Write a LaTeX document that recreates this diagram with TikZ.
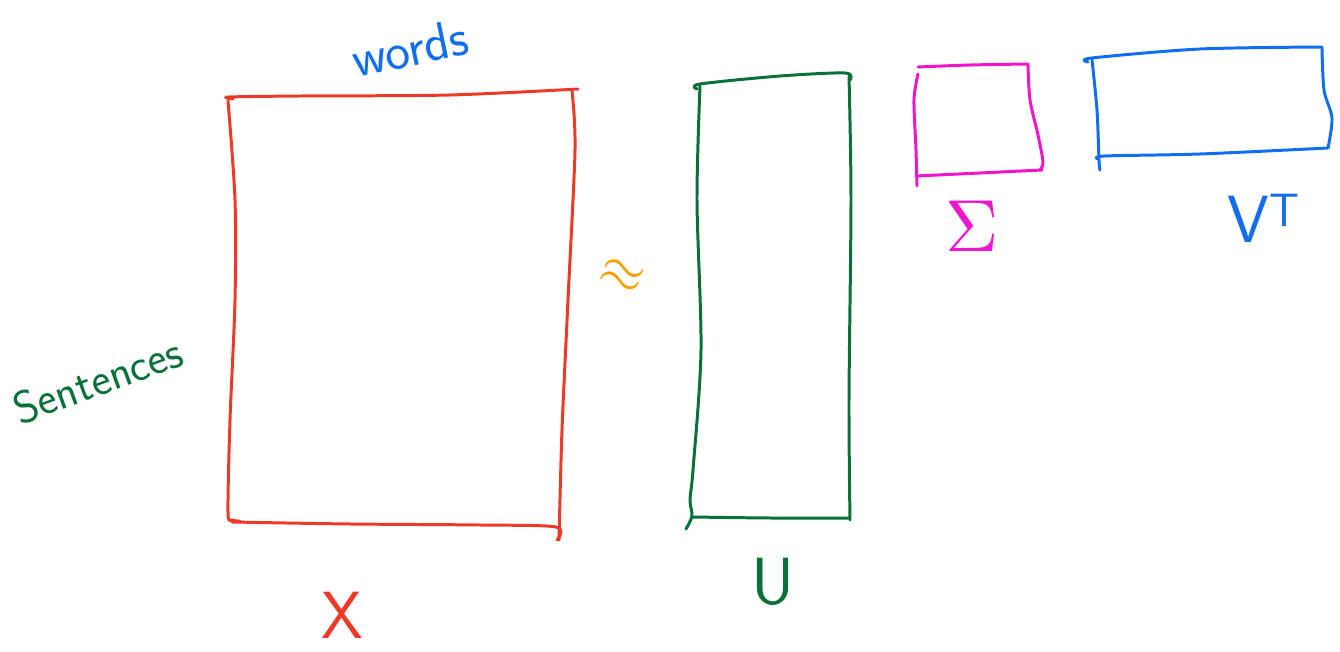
\documentclass[tikz,border=0pt]{standalone}
\usepackage{amsmath}
\usepackage{amssymb}
\usepackage{tikz}

\definecolor{penred}{RGB}{236,58,38}
\definecolor{pengreen}{RGB}{8,112,56}
\definecolor{penblue}{RGB}{18,110,240}
\definecolor{penpink}{RGB}{240,20,205}
\definecolor{penorange}{RGB}{246,160,0}

\tikzset{
  pen/.style={line width=1.7pt, line cap=round, line join=round},
  hand/.style={font=\sffamily\fontsize{30}{34}\selectfont, inner sep=0pt},
  bighand/.style={font=\sffamily\fontsize{38}{42}\selectfont, inner sep=0pt},
  mathhand/.style={inner sep=0pt}
}

\begin{document}
\begin{tikzpicture}[x=0.02cm,y=-0.02cm]
            \useasboundingbox (0,0) rectangle (1340,652);
            % X
            \draw[pen,penred] plot[smooth] coordinates {(233,99) (229,97) (300,96) (450,95) (578,89)};
            \draw[pen,penred] plot[smooth] coordinates {(228,101) (235,200) (235,300) (230,420) (228,512) (232,520) (240,521)};
            \draw[pen,penred] plot[smooth] coordinates {(232,522) (350,524) (480,525) (556,527) (557,540)};
            \draw[pen,penred] plot[smooth] coordinates {(572,91) (575,150) (568,300) (562,430) (559,540)};
            % U
            \draw[pen,pengreen] plot[smooth] coordinates {(697,89) (700,84) (780,76) (845,73) (850,80)};
            \draw[pen,pengreen] plot[smooth] coordinates {(700,86) (697,200) (701,350) (693,470) (690,500) (692,516) (686,529)};
            \draw[pen,pengreen] plot[smooth] coordinates {(692,517) (770,518) (850,518)};
            \draw[pen,pengreen] plot[smooth] coordinates {(849,76) (851,200) (849,400) (850,520)};
            % Sigma
            \draw[pen,penpink] plot[smooth] coordinates {(918,67) (970,65) (1028,64)};
            \draw[pen,penpink] plot[smooth] coordinates {(918,74) (914,100) (916,150) (917,186)};
            \draw[pen,penpink] plot[smooth] coordinates {(916,176) (980,173) (1042,170)};
            \draw[pen,penpink] plot[smooth] coordinates {(1028,65) (1030,100) (1038,135) (1043,162) (1040,170)};
            % V^T
            \draw[pen,penblue] plot[smooth] coordinates {(1088,62) (1092,58) (1200,49) (1322,47)};
            \draw[pen,penblue] plot[smooth] coordinates {(1092,60) (1097,110) (1099,160) (1100,170)};
            \draw[pen,penblue] plot[smooth] coordinates {(1098,159) (1105,156) (1200,154) (1328,148)};
            \draw[pen,penblue] plot[smooth] coordinates {(1322,48) (1324,90) (1332,118) (1328,148)};
            % labels
            \node[hand,penblue,rotate=12] (words) at (410,48) {words};
            \node[hand,pengreen,rotate=20,font=\sffamily\fontsize{26}{30}\selectfont] (sentences) at (98,380) {Sentences};
            \node[mathhand,penorange,rotate=-20,scale=3.2] (approx) at (622,276) {$\approx$};
            \node[bighand,penred] (xlabel) at (342,615) {X};
            \node[bighand,pengreen] (ulabel) at (773,582) {U};
            \node[mathhand,penpink,scale=4.2] (sigma) at (972,226) {$\Sigma$};
            \node[bighand,penblue] (vt) at (1264,218) {V\textsuperscript{T}};
        \end{tikzpicture}
\end{document}
